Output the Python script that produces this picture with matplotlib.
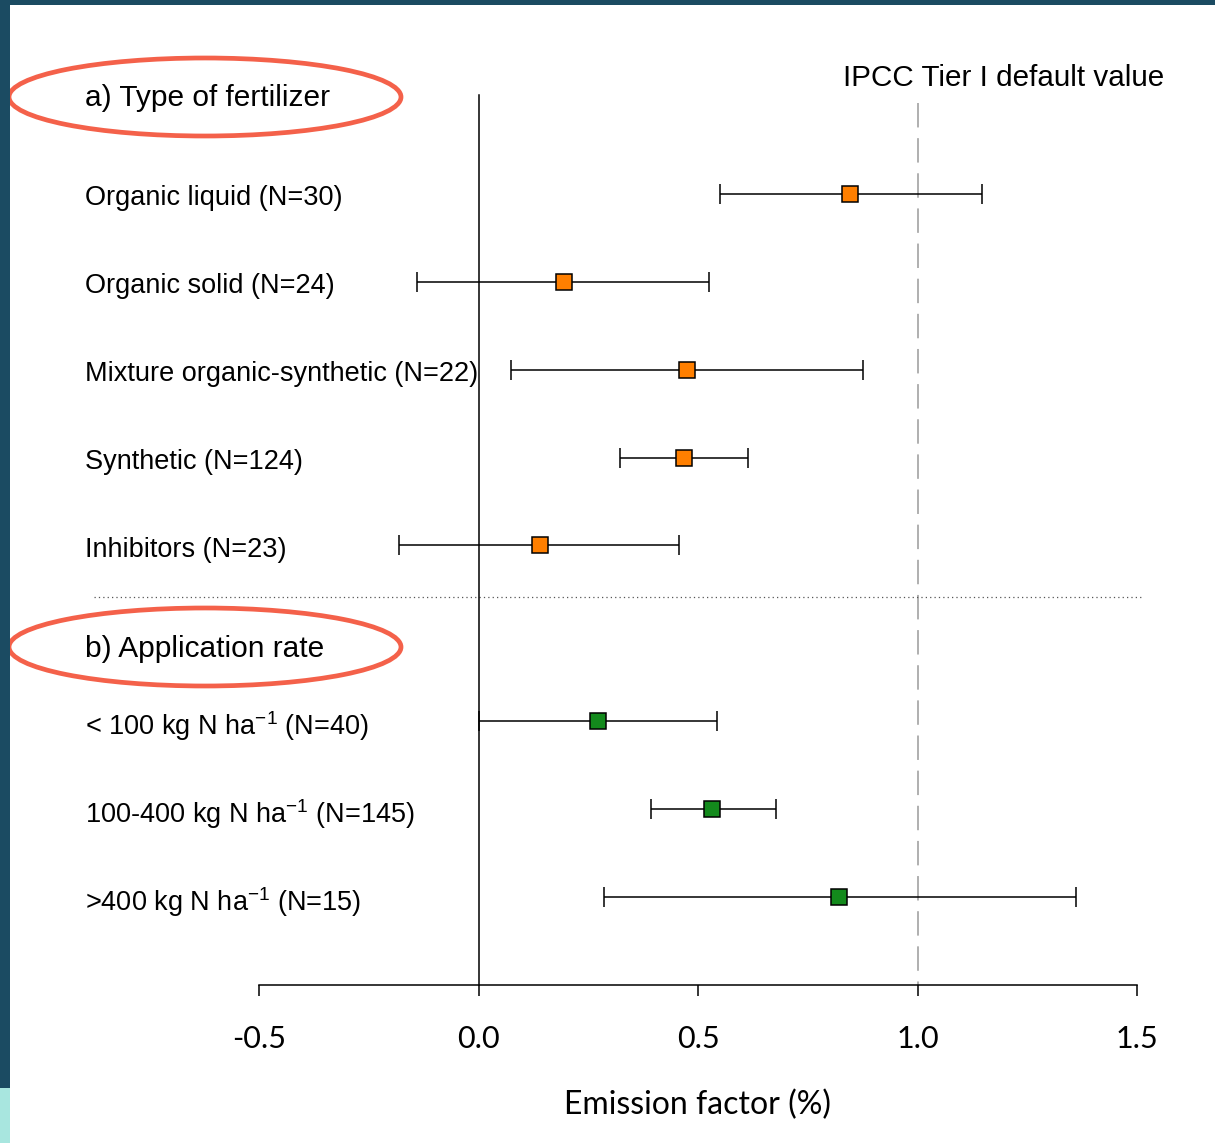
import numpy as np
import matplotlib
matplotlib.use('Agg')
from matplotlib import pyplot as plt
from matplotlib.patches import Ellipse, Rectangle

plt.rcParams['font.family'] = ['Liberation Sans', 'DejaVu Sans']
plt.rcParams['mathtext.fontset'] = 'custom'
plt.rcParams['mathtext.rm'] = 'Liberation Sans'
plt.rcParams['mathtext.it'] = 'Liberation Sans'

# datos
etiq_a = ['Organic liquid (N=30)', 'Organic solid (N=24)', 'Mixture organic-synthetic (N=22)',
          'Synthetic (N=124)', 'Inhibitors (N=23)']
media_a = [0.847, 0.194, 0.474, 0.467, 0.139]
inf_a = [0.549, -0.141, 0.075, 0.323, -0.180]
sup_a = [1.148, 0.526, 0.875, 0.613, 0.456]

etiq_b = ['< 100 kg N ha$^{\\mathregular{-1}}$ (N=40)', '100-400 kg N ha$^{\\mathregular{-1}}$ (N=145)',
          '>400 kg N ha$^{\\mathregular{-1}}$ (N=15)']
media_b = [0.273, 0.533, 0.822]
inf_b = [0.002, 0.392, 0.287]
sup_b = [0.544, 0.677, 1.362]

ticks = [-0.5, 0.0, 0.5, 1.0, 1.5]
ipcc = 1.0

W, H = 1215, 1143
fig = plt.figure(figsize=(W/100, H/100), dpi=100)
ax = fig.add_axes([259/W, 1-985/H, 878/W, (985-62)/H])
ax.set_xlim(-0.5, 1.5)
ax.set_ylim(9, -1.5)

ya = np.arange(len(etiq_a))
yb = np.arange(len(etiq_b)) + 6

def dibujo(y, m, lo, hi, color):
    m = np.array(m); lo = np.array(lo); hi = np.array(hi)
    ax.errorbar(m, y, xerr=[m-lo, hi-m], fmt='none', ecolor='black', elinewidth=1.1,
                capsize=7, capthick=1.1, clip_on=False, zorder=3)
    ax.plot(m, y, 's', ms=11.5, mfc=color, mec='black', mew=1.1, clip_on=False, zorder=4)

# lineas de referencia
ax.plot([0, 0], [-1.125, 9], color='black', lw=1.1, zorder=2, clip_on=False)
ax.plot([ipcc, ipcc], [-1.03, 9], color='#9a9a9a', lw=1.1, dashes=(16, 7), zorder=1, clip_on=False)
ax.plot([-0.875, 1.513], [4.59, 4.59], color='#555555', lw=0.9, ls=(0, (1, 2.5)), clip_on=False, zorder=1)

dibujo(ya, media_a, inf_a, sup_a, '#ff7f00')
dibujo(yb, media_b, inf_b, sup_b, '#138a1c')

trans = ax.get_yaxis_transform()
xl = (85-259)/878
for y, t in zip(ya, etiq_a):
    ax.text(xl, y + 0.05, t, transform=trans, fontsize=19.5, va='center', ha='left')
for y, t in zip(yb, etiq_b):
    ax.text(xl, y + 0.06, t, transform=trans, fontsize=19.5, va='center', ha='left')
ax.text(xl, -1.09, 'a) Type of fertilizer', transform=trans, fontsize=21.5, va='center', ha='left')
ax.text(xl, 5.18, 'b) Application rate', transform=trans, fontsize=21.5, va='center', ha='left')
ax.text(1004/W, 1-78/H, 'IPCC Tier I default value', transform=fig.transFigure,
        fontsize=21.3, va='center', ha='center')

# ovalos
for cy in [97, 647]:
    fig.add_artist(Ellipse((205/W, 1-cy/H), 392/W, 78/H, transform=fig.transFigure,
                           fill=False, ec='#f4614a', lw=3.4))

# eje x
for s in ['top', 'left', 'right']:
    ax.spines[s].set_visible(False)
ax.spines['bottom'].set_linewidth(1.1)
ax.spines['bottom'].set_bounds(-0.5, 1.5)
ax.set_yticks([])
ax.set_xticks(ticks)
ax.set_xticklabels(['%.1f' % t for t in ticks], fontfamily='Lato', fontsize=22)
ax.tick_params(axis='x', length=8, width=1.1, pad=21)
ax.set_xlabel('Emission factor (%)', fontfamily='Lato', fontsize=23, labelpad=26)

# bordes de la diapositiva
fig.add_artist(Rectangle((0, 1-5/H), 1, 5/H, transform=fig.transFigure, color='#1b4b62', lw=0))
fig.add_artist(Rectangle((0, 55/H), 10/W, 1-55/H, transform=fig.transFigure, color='#1b4b62', lw=0))
fig.add_artist(Rectangle((0, 0), 10/W, 55/H, transform=fig.transFigure, color='#a8e6df', lw=0))

fig.savefig('out.png', dpi=100)
